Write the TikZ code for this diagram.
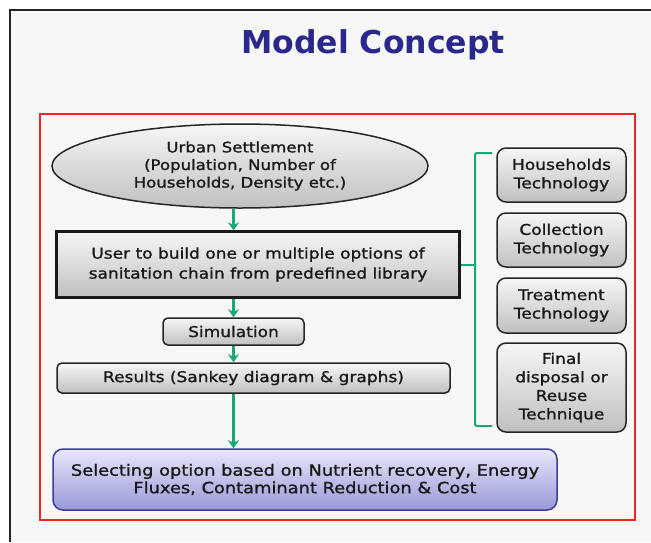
\documentclass[tikz,border=0pt]{standalone}
\usepackage{fontspec}
\newfontfamily\bodyfont{DejaVu Sans}[UprightFeatures={FakeStretch=1.15, FakeBold=1.2}]
\newfontfamily\titlefont{DejaVu Sans Bold}
\usetikzlibrary{shapes.geometric,arrows.meta}
\definecolor{titleblue}{RGB}{42,40,140}
\definecolor{arrgreen}{RGB}{24,168,118}
\definecolor{frred}{RGB}{235,40,35}
\definecolor{boxtop}{RGB}{246,246,246}
\definecolor{boxbot}{RGB}{192,192,192}
\definecolor{seltop}{RGB}{232,232,250}
\definecolor{selbot}{RGB}{152,152,216}
\definecolor{selborder}{RGB}{60,60,155}
\tikzset{
  txt/.style={font=\bodyfont\fontsize{14.8}{18.5}\selectfont, align=center, text=black!90, inner sep=0pt},
  graybox/.style={txt, draw=black!85, line width=1.5pt, top color=boxtop, bottom color=boxbot, rounded corners=5pt},
  techbox/.style={graybox, rounded corners=9pt, minimum width=129pt},
  arr/.style={draw=arrgreen, line width=2.6pt, -{Stealth[length=8pt,width=11pt,inset=2.5pt]}},
  brk/.style={draw=arrgreen, line width=2pt, rounded corners=2pt},
}
\begin{document}
\begin{tikzpicture}[x=1pt,y=-1pt]
\useasboundingbox (0,0) rectangle (651,542);
\fill[white] (0,0) rectangle (651,542);
% slide frame
\fill[black!3] (10,10) rectangle (651,542);
\draw[black!85, line width=1.2pt] (10,542) -- (10,10) -- (651,10);
% title
\node[font=\titlefont\fontsize{31.5}{36}\selectfont, text=titleblue] (title) at (373,45) {Model Concept};
% red frame
\draw[frred, line width=1.6pt, fill=white!97!black] (40,114) rectangle (635,520);
% ellipse
\node[ellipse, txt, font=\bodyfont\fontsize{14.4}{17.6}\selectfont, draw=black!85, line width=1.5pt, top color=boxtop, bottom color=boxbot,
      minimum width=376pt, minimum height=84pt] (ell) at (240,166)
  {Urban Settlement\\(Population, Number of\\Households, Density etc.)};
% user box
\node[txt, font=\bodyfont\fontsize{14.8}{20}\selectfont, draw=black!90, line width=2.2pt, top color=boxtop, bottom color=boxbot,
      minimum width=403pt, minimum height=66pt] (user) at (258,264.5)
  {User to build one or multiple options of\\sanitation chain from predefined library};
% simulation
\node[graybox, minimum width=141pt, minimum height=27pt] (sim) at (233.5,331.5) {Simulation};
% results
\node[graybox, minimum width=393pt, minimum height=30pt] (res) at (253.5,378) {Results (Sankey diagram \& graphs)};
% selecting
\node[txt, font=\bodyfont\fontsize{15.5}{17.5}\selectfont, draw=selborder, line width=1.5pt, top color=seltop, bottom color=selbot, rounded corners=10pt,
      minimum width=504pt, minimum height=61pt] (sel) at (305,479.5)
  {Selecting option based on Nutrient recovery, Energy\\Fluxes, Contaminant Reduction \& Cost};
% technology boxes
\node[techbox, minimum height=54pt] (hh) at (561.5,175) {Households\\Technology};
\node[techbox, minimum height=54pt] (col) at (561.5,240) {Collection\\Technology};
\node[techbox, minimum height=55pt] (trt) at (561.5,305.5) {Treatment\\Technology};
\node[techbox, minimum height=89pt] (fin) at (561.5,387.5) {Final\\disposal or\\Reuse\\Technique};
% arrows
\draw[arr] (sim.north |- ell.south) -- (sim.north |- user.north);
\draw[arr] (sim.north |- user.south) -- (sim.north);
\draw[arr] (sim.south) -- (sim.south |- res.north);
\draw[arr] (sim.south |- res.south) -- (sim.south |- sel.north);
% bracket
\coordinate (bt) at (492,153);
\coordinate (bb) at (492,426);
\coordinate (bx) at (475,264);
\draw[brk] (bt) -- (bt -| bx) -- (bb -| bx) -- (bb);
\draw[brk] (user.east) -- (user.east -| bx);
\end{tikzpicture}
\end{document}
